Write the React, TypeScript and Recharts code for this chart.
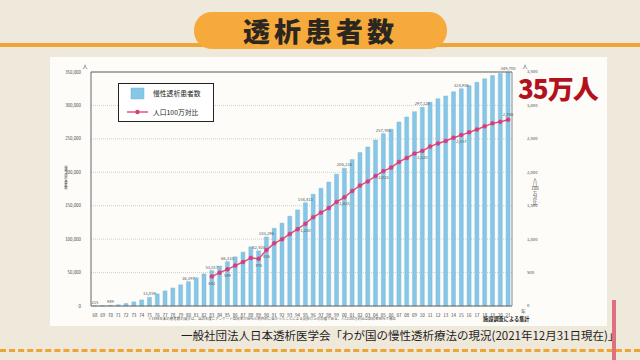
import React from 'react';
import { ComposedChart, Bar, Line, XAxis, YAxis, CartesianGrid, LabelList, ReferenceLine } from 'recharts';

const years = ['68','69','70','71','72','73','74','75','76','77','78','79','80','81','82','83','84','85','86','87','88','89','90','91','92','93','94','95','96','97','98','99','00','01','02','03','04','05','06','07','08','09','10','11','12','13','14','15','16','17','18','19','20','21'];
const patients = [215,500,949,1826,3631,6148,9107,13059,18119,22570,27000,31700,36397,42223,47978,53017,59811,66310,73537,80553,88534,82500,103296,116303,123926,134298,143709,154413,167192,175988,185322,197213,206134,219183,229538,237710,248166,257765,264473,275242,282622,290661,297126,304856,310007,314180,320448,324986,329609,334505,339841,344640,347671,349700];
const perMillion = [null,null,null,null,null,null,null,null,null,null,null,null,null,null,null,441,498,549,604,658,719,705,836,937,997,1078,1149,1230,1329,1397,1465,1557,1625,1721,1801,1863,1944,2018,2070,2155,2214,2280,2320,2385,2431,2468,2517,2557,2597,2640,2688,2732,2755,2786];
const leftTicks = [0,50000,100000,150000,200000,250000,300000,350000];
const rightTicks = [0,500,1000,1500,2000,2500,3000,3500];
const barLabelYears = ['68','70','75','80','83','85','89','90','95','00','05','10','15','21'];
const lineLabelYears = ['83','85','89','90','95','00','05','10','15','21'];

const data = years.map((y, i) => ({ year: y, patients: patients[i], perMillion: perMillion[i] }));

const FONT = '"Noto Sans CJK JP", "Noto Sans", sans-serif';

const BarLabel = (props: any) => {
  const { x, y, width, value, index } = props;
  if (!barLabelYears.includes(years[index])) return null;
  return (
    <text x={x + width / 2} y={y - 2} fontSize={4.2} fill="#555" textAnchor="middle" fontFamily={FONT}>
      {Number(value).toLocaleString('en-US')}
    </text>
  );
};

const LineLabel = (props: any) => {
  const { x, y, value, index } = props;
  if (value == null || !lineLabelYears.includes(years[index])) return null;
  const above = years[index] === '21';
  return (
    <text x={x} y={above ? y - 4 : y + 8} fontSize={4.2} fill="#555" textAnchor="middle" fontFamily={FONT}>
      {Number(value).toLocaleString('en-US')}
    </text>
  );
};

export default function App() {
  return (
    <div style={{ position: 'absolute', left: 0, top: 0, width: 640, height: 360, overflow: 'hidden', background: '#efe9db', fontFamily: FONT }}>
      {/* orange line under title */}
      <div style={{ position: 'absolute', left: 0, top: 43, width: 640, height: 4, background: '#f0a436' }} />
      {/* title pill */}
      <div style={{ position: 'absolute', left: 194, top: 12, width: 253, height: 37, borderRadius: 18, background: '#f6aa3c', display: 'flex', alignItems: 'center', justifyContent: 'center' }}>
        <span style={{ fontSize: 27, fontWeight: 900, color: '#2b2620', letterSpacing: 4 }}>透析患者数</span>
      </div>
      {/* white panel */}
      <div style={{ position: 'absolute', left: 50, top: 57, width: 557, height: 269, background: '#fdfcf8' }} />
      <div style={{ position: 'absolute', left: 0, top: 0 }}>
        <ComposedChart width={640} height={360} data={data} margin={{ top: 72, right: 88, left: 51, bottom: 44 }} barCategoryGap="24%">
          <CartesianGrid vertical={false} stroke="#cfcfcf" strokeDasharray="1 1" yAxisId="left" />
          <XAxis dataKey="year" interval={0} tickLine={false} axisLine={{ stroke: '#666' }} height={10} tick={{ fontSize: 4.5, fill: '#444', fontFamily: FONT }} tickMargin={2} />
          <YAxis yAxisId="left" domain={[0, 350000]} ticks={leftTicks} width={40} tickLine={false} axisLine={{ stroke: '#666' }} tick={{ fontSize: 4.4, fill: '#444', fontFamily: FONT }} tickFormatter={(v: number) => v.toLocaleString('en-US')} tickMargin={4} />
          <YAxis yAxisId="right" orientation="right" domain={[0, 3500]} ticks={rightTicks} width={40} tickLine={false} axisLine={{ stroke: '#888' }} tick={{ fontSize: 4.2, fill: '#444', fontFamily: FONT }} tickFormatter={(v: number) => v.toLocaleString('en-US')} tickMargin={9} />
          <ReferenceLine yAxisId="left" y={350000} stroke="#666" strokeWidth={1} />
          <Bar yAxisId="left" dataKey="patients" fill="#86c6e6" stroke="#74b6da" strokeWidth={0.4} isAnimationActive={false}>
            <LabelList dataKey="patients" content={BarLabel} />
          </Bar>
          <Line yAxisId="right" dataKey="perMillion" stroke="#e0487c" strokeWidth={1.4} dot={{ r: 2, fill: '#d63f78', stroke: '#d63f78', strokeWidth: 0.5 }} isAnimationActive={false}>
            <LabelList dataKey="perMillion" content={LineLabel} />
          </Line>
        </ComposedChart>
      </div>
      {/* small texts as SVG */}
      <svg width={640} height={360} style={{ position: 'absolute', left: 0, top: 0, pointerEvents: 'none' }} fontFamily={FONT}>
        <text x={85} y={68} fontSize={5} fill="#444" textAnchor="middle">人</text>
        <text x={525} y={68} fontSize={5} fill="#444" textAnchor="middle">人</text>
        <text x={521} y={313} fontSize={4.8} fill="#444">年</text>
        <text x={66} y={166} fontSize={3.4} fill="#444" style={{ writingMode: 'vertical-rl' }}>慢性透析患者数</text>
        <text x={535} y={181} fontSize={4.4} fill="#444" textAnchor="middle">人</text>
        <text x={535} y={185.5} fontSize={4.4} fill="#444" textAnchor="middle">口</text>
        <text x={535} y={190} fontSize={4.4} fill="#444" textAnchor="middle">100</text>
        <text x={535} y={194.5} fontSize={4.4} fill="#444" textAnchor="middle">万</text>
        <text x={535} y={199} fontSize={4.4} fill="#444" textAnchor="middle">対</text>
        <text x={535} y={203.5} fontSize={4.4} fill="#444" textAnchor="middle">比</text>
        <text x={148} y={320} fontSize={3.5} fill="#555">※1989年末の患者数の減少は、当該年度にアンケート回収率が86%と例外的に低かったことによる見掛け上の影響である。人口100万対比は回収率90%で補正</text>
        <text x={483} y={321} fontSize={5.2} fontWeight={700} fill="#222">施設調査による集計</text>
        {/* legend */}
        <rect x={118.5} y={83.5} width={95} height={38} fill="#fff" stroke="#222" strokeWidth={1} />
        <rect x={131} y={88} width={13} height={11} fill="#86c6e6" stroke="#74b6da" strokeWidth={0.5} />
        <text x={153} y={96} fontSize={6.8} fill="#222">慢性透析患者数</text>
        <line x1={127} y1={112} x2={148} y2={112} stroke="#e0487c" strokeWidth={1.4} />
        <circle cx={137.5} cy={112} r={2.2} fill="#d63f78" />
        <text x={153} y={114.5} fontSize={6.8} fill="#222">人口100万対比</text>
      </svg>
      {/* 35万人 */}
      <div style={{ position: 'absolute', left: 518, top: 75, fontSize: 26, fontWeight: 900, color: '#b3121c', letterSpacing: -1, lineHeight: 1 }}>35万人</div>
      <div style={{ position: 'absolute', left: 181, top: 327, fontSize: 11.5, color: '#1e1e1e', whiteSpace: 'nowrap' }}>一般社団法人日本透析医学会「わが国の慢性透析療法の現況(2021年12月31日現在)」</div>
      {/* bottom dashed orange line */}
      <div style={{ position: 'absolute', left: 0, top: 349, width: 640, height: 0, borderTop: '3px dashed #f0a436' }} />
      {/* pink brush stroke */}
      <div style={{ position: 'absolute', left: 612, top: 300, width: 4, height: 60, background: '#e07080' }} />
    </div>
  );
}
